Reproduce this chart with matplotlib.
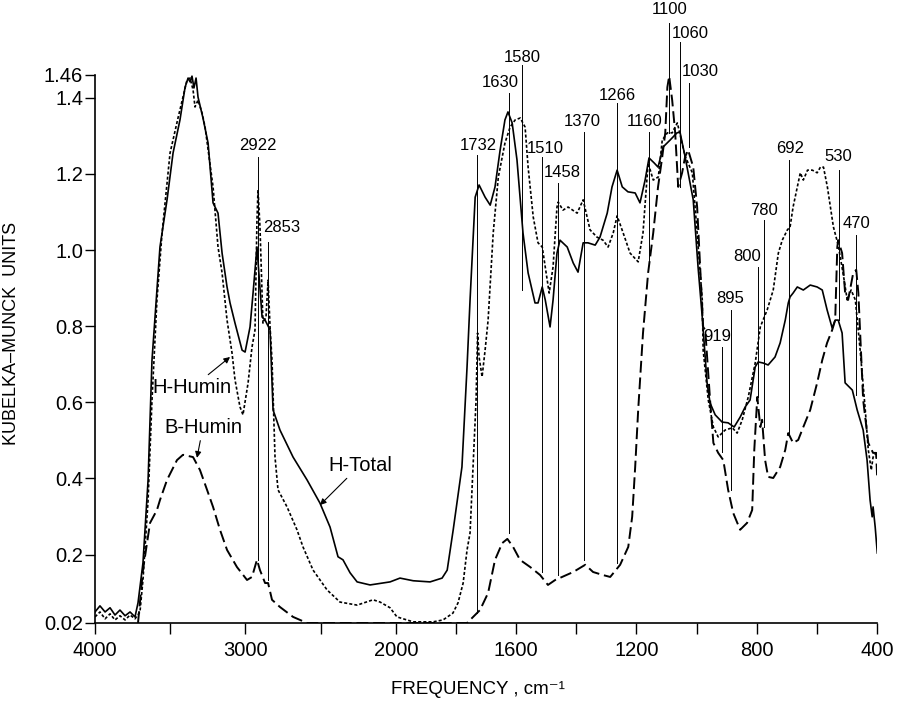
#!/usr/bin/env python

import numpy as np
import matplotlib
matplotlib.use('Agg')
import matplotlib.pyplot as plt

# --- data (wavenumber cm-1, Kubelka-Munck units) ---

h_total_wn = [4000, 3967, 3933, 3900, 3867, 3834, 3800, 3767, 3734, 3714, 3681, 3647,
              3621, 3568, 3521, 3481, 3435, 3401, 3381, 3368, 3355, 3342, 3328, 3315,
              3282, 3248, 3215, 3182, 3155, 3122, 3102, 3069, 3022, 3002, 2969, 2949,
              2923, 2889, 2869, 2836, 2816, 2770, 2683, 2590, 2504, 2437, 2384, 2351,
              2304, 2257, 2171, 2038, 1986, 1942, 1886, 1846, 1829, 1809, 1780, 1763,
              1753, 1736, 1723, 1703, 1686, 1670, 1653, 1637, 1627, 1613, 1597, 1577,
              1560, 1537, 1527, 1513, 1503, 1487, 1477, 1464, 1454, 1430, 1410, 1394,
              1377, 1361, 1337, 1321, 1297, 1281, 1264, 1247, 1228, 1204, 1188, 1171,
              1158, 1141, 1128, 1111, 1088, 1065, 1055, 1038, 1011, 995, 981, 965,
              955, 938, 915, 895, 875, 855, 838, 822, 805, 795, 778, 762, 739, 722,
              705, 695, 689, 679, 665, 645, 622, 599, 582, 566, 549, 539, 529, 516,
              506, 482, 466, 446, 433, 423, 416, 413, 406, 399]
h_total_km = [0.049, 0.065, 0.049, 0.060, 0.041, 0.054, 0.039, 0.049, 0.036, 0.073, 0.178, 0.396,
              0.711, 1.008, 1.132, 1.255, 1.342, 1.428, 1.452, 1.442, 1.457, 1.426, 1.452, 1.402,
              1.347, 1.281, 1.124, 1.097, 0.992, 0.903, 0.861, 0.808, 0.737, 0.732, 0.798, 0.887,
              1.008, 0.824, 0.816, 0.790, 0.580, 0.527, 0.456, 0.396, 0.335, 0.272, 0.194, 0.186,
              0.152, 0.128, 0.120, 0.128, 0.138, 0.131, 0.128, 0.138, 0.159, 0.265, 0.430, 0.693,
              0.869, 1.139, 1.171, 1.139, 1.118, 1.166, 1.263, 1.342, 1.363, 1.334, 1.237, 1.045,
              0.940, 0.861, 0.861, 0.903, 0.869, 0.798, 0.869, 0.992, 1.026, 1.008, 0.966, 0.942,
              1.019, 1.019, 1.013, 1.034, 1.097, 1.166, 1.210, 1.166, 1.153, 1.150, 1.124, 1.184,
              1.242, 1.229, 1.218, 1.271, 1.289, 1.308, 1.310, 1.245, 1.132, 0.956, 0.824, 0.651,
              0.598, 0.567, 0.548, 0.546, 0.535, 0.561, 0.588, 0.606, 0.693, 0.706, 0.703, 0.698,
              0.719, 0.756, 0.816, 0.861, 0.877, 0.887, 0.903, 0.895, 0.908, 0.903, 0.895, 0.843,
              0.795, 0.816, 0.816, 0.782, 0.651, 0.632, 0.580, 0.527, 0.448, 0.343, 0.299, 0.325,
              0.272, 0.204]

h_humin_wn = [4000, 3967, 3933, 3900, 3867, 3834, 3800, 3767, 3734, 3701, 3681, 3647,
              3621, 3588, 3554, 3501, 3448, 3388, 3368, 3348, 3335, 3315, 3288, 3268,
              3248, 3215, 3182, 3155, 3122, 3089, 3069, 3036, 3016, 2982, 2956, 2936,
              2923, 2916, 2903, 2889, 2883, 2863, 2849, 2836, 2823, 2803, 2783, 2723,
              2657, 2617, 2550, 2457, 2371, 2257, 2151, 2104, 2038, 1996, 1942, 1876,
              1843, 1810, 1793, 1776, 1763, 1753, 1743, 1733, 1728, 1723, 1713, 1703,
              1693, 1676, 1659, 1637, 1620, 1603, 1586, 1570, 1560, 1543, 1527, 1513,
              1503, 1490, 1477, 1464, 1460, 1444, 1427, 1397, 1377, 1354, 1331, 1311,
              1294, 1277, 1264, 1244, 1221, 1194, 1178, 1161, 1144, 1127, 1114, 1097,
              1081, 1064, 1058, 1047, 1038, 1014, 998, 981, 978, 961, 944, 928,
              905, 881, 865, 848, 828, 805, 788, 765, 745, 728, 715, 698,
              689, 679, 665, 655, 645, 631, 615, 599, 588, 578, 565, 555,
              545, 529, 512, 499, 486, 472, 456, 439, 429, 419, 413, 403, 399]
h_humin_km = [0.036, 0.049, 0.031, 0.044, 0.028, 0.039, 0.028, 0.041, 0.031, 0.049, 0.133, 0.343,
              0.606, 0.869, 1.045, 1.255, 1.347, 1.447, 1.452, 1.421, 1.376, 1.394, 1.360, 1.323,
              1.263, 1.166, 1.008, 0.940, 0.816, 0.730, 0.659, 0.588, 0.567, 0.651, 0.745, 0.790,
              1.079, 1.158, 1.061, 0.887, 0.808, 0.824, 0.921, 0.798, 0.711, 0.456, 0.370, 0.325,
              0.265, 0.220, 0.159, 0.107, 0.075, 0.067, 0.081, 0.075, 0.060, 0.036, 0.023, 0.023,
              0.028, 0.046, 0.073, 0.125, 0.212, 0.257, 0.430, 0.606, 0.782, 0.719, 0.667, 0.737,
              0.816, 1.045, 1.192, 1.281, 1.323, 1.342, 1.347, 1.323, 1.218, 1.087, 1.019, 1.008,
              0.956, 0.887, 0.956, 1.113, 1.126, 1.105, 1.113, 1.097, 1.132, 1.053, 1.034, 1.026,
              1.008, 1.045, 1.090, 1.045, 0.992, 0.969, 1.045, 1.229, 1.184, 1.192, 1.289, 1.308,
              1.308, 1.334, 1.315, 1.276, 1.247, 1.203, 1.045, 0.869, 0.737, 0.606, 0.535, 0.509,
              0.527, 0.533, 0.519, 0.554, 0.614, 0.703, 0.798, 0.843, 0.895, 0.992, 1.026, 1.053,
              1.061, 1.113, 1.166, 1.203, 1.184, 1.210, 1.210, 1.203, 1.218, 1.218, 1.166, 1.113,
              1.061, 1.013, 0.935, 0.869, 0.895, 0.869, 0.737, 0.580, 0.475, 0.422, 0.456, 0.467, 0.448]

b_humin_wn = [3714, 3681, 3634, 3588, 3568, 3521, 3455, 3415, 3348, 3302, 3255, 3215,
              3169, 3122, 3056, 2989, 2956, 2923, 2903, 2869, 2849, 2823, 2770, 2683,
              2590, 1986, 1763, 1720, 1693, 1670, 1646, 1629, 1610, 1587, 1553, 1520,
              1494, 1470, 1447, 1410, 1370, 1344, 1311, 1287, 1254, 1227, 1214, 1204,
              1194, 1178, 1161, 1144, 1128, 1114, 1104, 1097, 1091, 1081, 1071, 1061,
              1048, 1038, 1028, 1011, 998, 988, 978, 971, 955, 944, 928, 911,
              895, 878, 855, 832, 815, 808, 798, 788, 782, 772, 762, 745,
              722, 705, 695, 679, 662, 645, 622, 599, 582, 566, 549, 539,
              532, 529, 516, 506, 496, 479, 469, 462, 456, 446, 429, 413, 403, 399]
b_humin_km = [0.020, 0.159, 0.283, 0.317, 0.343, 0.396, 0.448, 0.462, 0.456, 0.422, 0.370, 0.325,
              0.265, 0.212, 0.167, 0.133, 0.141, 0.186, 0.159, 0.125, 0.125, 0.081, 0.062, 0.036,
              0.020, 0.020, 0.020, 0.054, 0.099, 0.186, 0.230, 0.241, 0.220, 0.186, 0.167, 0.146,
              0.120, 0.133, 0.141, 0.154, 0.173, 0.154, 0.146, 0.141, 0.173, 0.220, 0.299, 0.430,
              0.580, 0.782, 0.940, 1.045, 1.166, 1.245, 1.308, 1.428, 1.457, 1.394, 1.308, 1.166,
              1.203, 1.245, 1.263, 1.218, 1.113, 0.956, 0.798, 0.790, 0.606, 0.493, 0.467, 0.448,
              0.370, 0.309, 0.265, 0.283, 0.317, 0.475, 0.614, 0.535, 0.554, 0.448, 0.404, 0.401,
              0.430, 0.475, 0.519, 0.493, 0.501, 0.535, 0.580, 0.651, 0.711, 0.756, 0.790, 0.816,
              1.008, 1.026, 0.992, 0.887, 0.869, 0.940, 0.948, 0.887, 0.782, 0.606, 0.493, 0.467, 0.467, 0.396]

peak_labels = ['2922', '2853', '1732', '1630', '1580', '1510', '1458', '1370', '1266', '1160',
               '1100', '1060', '1030', '919', '895', '800', '780', '692', '530', '470']
peak_line_wn = [2918, 2851, 1731, 1624, 1580, 1514, 1461, 1373, 1265, 1158,
                1092, 1054, 1025, 916, 887, 797, 775, 691, 526, 470]
# label layout: text x, text y, line top, line bottom
peak_text_wn = [2918, 2756, 1727, 1653, 1580, 1503, 1447, 1380, 1264, 1174,
                1090, 1021, 988, 932, 889, 832, 775, 689, 529, 469]
peak_text_y = [1.276, 1.058, 1.276, 1.439, 1.505, 1.268, 1.205, 1.337, 1.407, 1.337,
               1.631, 1.570, 1.468, 0.772, 0.874, 0.984, 1.105, 1.268, 1.245, 1.071]
peak_line_top = [1.245, 1.021, 1.250, 1.413, 1.486, 1.245, 1.176, 1.310, 1.386, 1.310,
                 1.597, 1.547, 1.439, 0.745, 0.843, 0.956, 1.079, 1.237, 1.210, 1.040]
peak_line_bot = [0.186, 0.133, 0.046, 0.257, 0.895, 0.154, 0.146, 0.186, 0.178, 0.966,
                 1.308, 1.166, 1.271, 0.469, 0.370, 0.614, 0.535, 0.519, 0.816, 0.619]

x_ticks = [4000, 3500, 3000, 2500, 2000, 1800, 1600, 1400, 1200, 1000, 800, 600, 400]
x_ticklabels = ['4000', '', '3000', '', '2000', '', '1600', '', '1200', '', '800', '', '400']
y_ticks = [0.02, 0.2, 0.4, 0.6, 0.8, 1.0, 1.2, 1.4, 1.46]
y_ticklabels = ['0.02', '0.2', '0.4', '0.6', '0.8', '1.0', '1.2', '1.4', '1.46']


# the chart halves the wavenumber scale above 2000 cm-1
def x_fwd(x):
    x = np.asarray(x, dtype=float)
    return np.where(x >= 2000, x, 2 * x - 2000)


def x_inv(u):
    u = np.asarray(u, dtype=float)
    return np.where(u >= 2000, u, (u + 2000) / 2)


def main() -> None:
    plt.rcParams['font.family'] = ['Liberation Sans', 'DejaVu Sans']
    plt.rcParams['lines.scale_dashes'] = False

    fig = plt.figure(figsize=(8.98, 7.28), dpi=100)
    ax = fig.add_axes([95 / 898, 105 / 728, 782 / 898, 548 / 728])

    ax.plot(h_total_wn, h_total_km, color='black', lw=1.2, solid_joinstyle='round')
    ax.plot(h_humin_wn, h_humin_km, color='black', lw=1.2, dashes=(2.2, 1.5))
    ax.plot(b_humin_wn, b_humin_km, color='black', lw=1.4, dashes=(8.5, 3.5))

    ax.set_xscale('function', functions=(x_fwd, x_inv))
    ax.set_xlim(4000, 400)
    ax.set_ylim(0.02, 1.46)

    ax.set_xticks(x_ticks)
    ax.set_xticklabels(x_ticklabels)
    ax.set_yticks(y_ticks)
    ax.set_yticklabels(y_ticklabels)
    ax.minorticks_off()
    ax.tick_params(axis='x', direction='out', length=8, width=1, pad=5, labelsize=14.5)
    ax.tick_params(axis='y', direction='out', length=7, width=1, pad=1.5, labelsize=14.5)

    for side in ('top', 'right'):
        ax.spines[side].set_visible(False)
    for side in ('left', 'bottom'):
        ax.spines[side].set_linewidth(1.2)

    # peak markers
    for lab, lx, tx, ty, top, bot in zip(peak_labels, peak_line_wn, peak_text_wn,
                                         peak_text_y, peak_line_top, peak_line_bot):
        ax.plot([lx, lx], [bot, top], color='black', lw=0.7, clip_on=False)
        ax.text(tx, ty, lab, ha='center', va='center', fontsize=12, clip_on=False)

    # series labels
    arrow = dict(arrowstyle='-|>', color='black', lw=0.8, mutation_scale=9,
                 shrinkA=1, shrinkB=0)
    ax.annotate('H-Humin', xy=(3102, 0.719), xytext=(3355, 0.638), fontsize=14.5,
                ha='center', va='center', arrowprops=arrow)
    ax.annotate('B-Humin', xy=(3322, 0.454), xytext=(3282, 0.535), fontsize=14.5,
                ha='center', va='center', arrowprops=arrow)
    ax.annotate('H-Total', xy=(2504, 0.330), xytext=(2237, 0.435), fontsize=14.5,
                ha='center', va='center', arrowprops=arrow)

    fig.text(12 / 898, 1 - 333 / 728, 'KUBELKA\u2013MUNCK  UNITS', rotation=90,
             ha='center', va='center', fontsize=13)
    fig.text(478 / 898, 1 - 690 / 728, 'FREQUENCY , cm\u207b\u00b9',
             ha='center', va='center', fontsize=13.5)

    fig.savefig('out.png', dpi=100)


if __name__ == '__main__':
    main()
